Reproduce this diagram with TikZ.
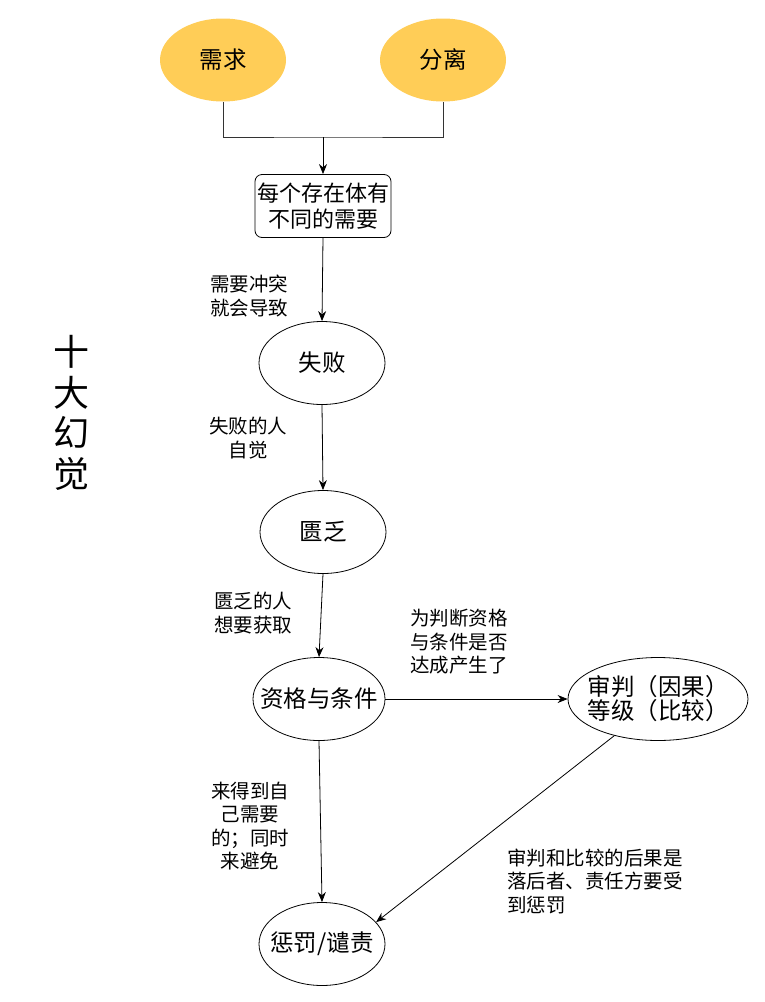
\documentclass[tikz,border=0pt]{standalone}
\usepackage{fontspec}
\setmainfont{Noto Sans CJK SC}
\usetikzlibrary{shapes.geometric, arrows.meta, positioning}
\definecolor{goldfill}{HTML}{FFCD57}
\tikzset{bubble/.style={draw,ellipse,line width=0.8pt,inner xsep=-14pt,inner ysep=0pt,minimum width=126pt,minimum height=83pt,align=center,font=\fontsize{23.5}{24}\selectfont},
         goal/.style={bubble,draw=none,fill=goldfill},
         rbox/.style={draw,line width=0.8pt,rounded corners=7pt,minimum width=136pt,minimum height=63pt,inner sep=0pt,align=center,font=\fontsize{22}{26.5}\selectfont},
         note/.style={align=center,inner sep=0pt,font=\fontsize{19.5}{23.5}\selectfont},
         arr/.style={-{Stealth[length=10pt,width=8pt]},line width=0.8pt}}

\begin{document}
\begin{tikzpicture}[x=1pt,y=-1pt]
        \useasboundingbox (0,0) rectangle (765,1002);
        \node[font=\fontsize{36}{40.5}\selectfont,align=center](title)at(71,413){十\\大\\幻\\觉};

        \node[goal](xq)at(223,60){需求};
        \node[goal](fl)at(443,60){分离};
        \coordinate(join)at(323,137);
        \node[rbox](box)at(323,206){每个存在体有\\不同的需要};
        \node[bubble](sb)at(322,363){失败};
        \node[bubble](kf)at(323,532){匮乏};
        \node[bubble,minimum width=132pt](zg)at(319,699){资格与条件};
        \node[bubble,minimum width=180pt](sp)at(658,699){审判（因果）\\等级（比较）};
        \node[bubble](cf)at(322,944){惩罚/谴责};

        \node[note](n1)at(249,296){需要冲突\\就会导致};
        \node[note](n2)at(248,438){失败的人\\自觉};
        \node[note](n3)at(253,613){匮乏的人\\想要获取};
        \node[note](n4)at(459,642){为判断资格\\与条件是否\\达成产生了};
        \node[note](n5)at(250,826){来得到自\\己需要\\的；同时\\来避免};
        \node[note,align=left,anchor=west](n6)at(507,881){审判和比较的后果是\\落后者、责任方要受\\到惩罚};

        \draw[line width=0.8pt,black!80](xq.south)|-(join)-|(fl.south);
        \draw[arr](join)--(box.north);
        \draw[arr](box.south)--(sb.north);
        \draw[arr](sb.south)--(kf.north);
        \draw[arr](kf.south)--(zg.north);
        \draw[arr](zg.east)--(sp.west);
        \draw[arr](zg.south)--(cf.north);
        \draw[arr](sp.220)--(cf.22);
    \end{tikzpicture}
\end{document}
